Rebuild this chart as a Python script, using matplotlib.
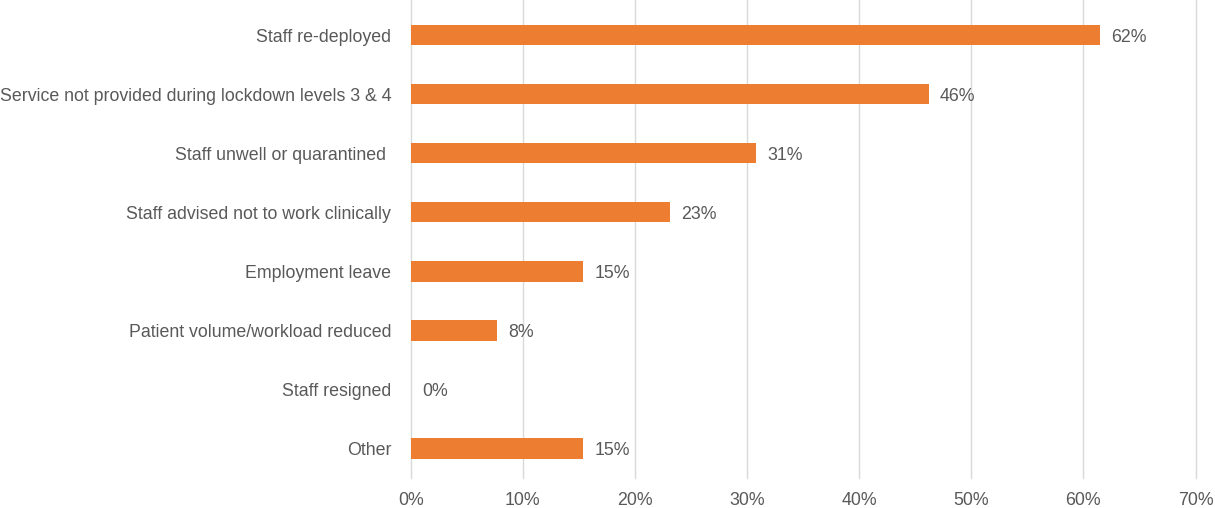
import matplotlib.pyplot as plt
from matplotlib.ticker import PercentFormatter

plt.rcParams['font.family'] = ['Liberation Sans', 'DejaVu Sans']

categories = [
    "Staff re-deployed",
    "Service not provided during lockdown levels 3 & 4",
    "Staff unwell or quarantined ",
    "Staff advised not to work clinically",
    "Employment leave",
    "Patient volume/workload reduced",
    "Staff resigned",
    "Other",
]
percent = [61.5, 46.2, 30.8, 23.1, 15.4, 7.7, 0.0, 15.4]
xticks = [0, 10, 20, 30, 40, 50, 60, 70]

bar_color = "#ED7D31"
text_color = "#595959"
fs = 12.8

fig = plt.figure(figsize=(12.15, 5.08), dpi=100)
ax = fig.add_axes([0.338, 0.059, 0.646, 0.941])

pos = list(range(len(categories)))
ax.barh(pos, percent, height=0.34, color=bar_color, zorder=3)

for y, v in zip(pos, percent):
    ax.text(v + 1.0, y + 0.03, f"{v:.0f}%", va="center", ha="left",
            fontsize=fs, color=text_color)

ax.set_yticks(pos)
ax.set_yticklabels(categories, fontsize=fs, color=text_color)
ax.set_ylim(7.5, -0.6)

ax.set_xlim(0, 70)
ax.set_xticks(xticks)
ax.xaxis.set_major_formatter(PercentFormatter(decimals=0))
ax.tick_params(axis="x", labelsize=fs, labelcolor=text_color, length=0, pad=10)
ax.tick_params(axis="y", length=0, pad=14)

ax.grid(axis="x", color="#D9D9D9", linewidth=1.0, zorder=0)
for line in ax.get_xgridlines():
    line.set_clip_on(False)
for s in ax.spines.values():
    s.set_visible(False)

fig.savefig("out.png", dpi=100)
